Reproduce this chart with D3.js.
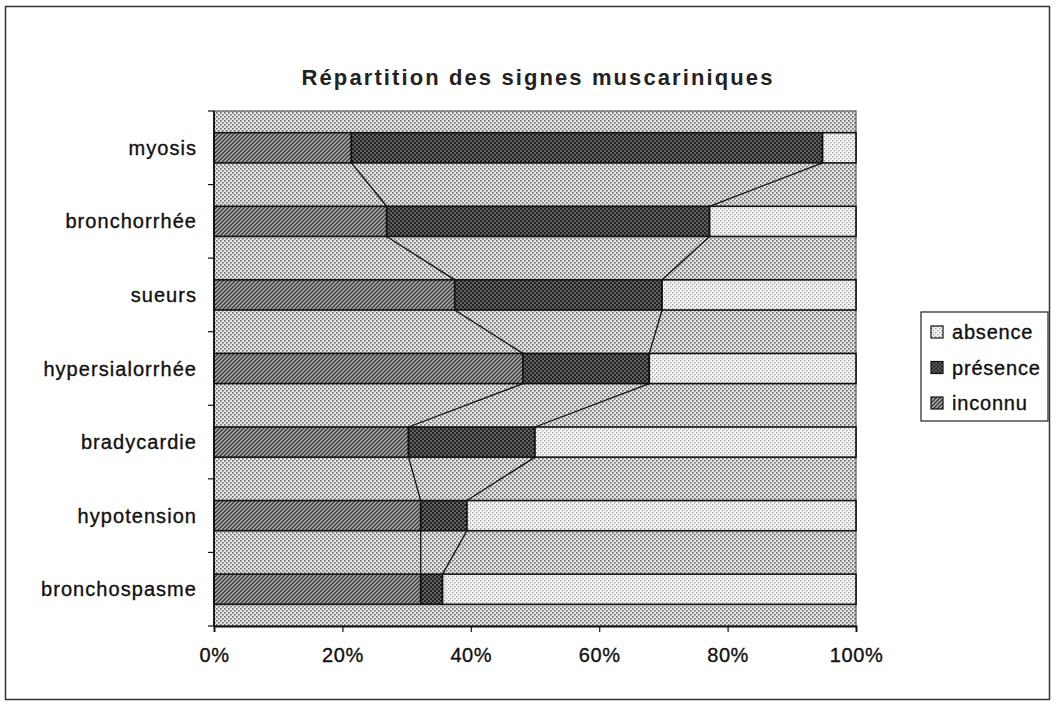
<!DOCTYPE html>
<html>
<head>
<meta charset="utf-8">
<script src="https://cdn.jsdelivr.net/npm/d3@7"></script>
<style>
  html, body { margin: 0; padding: 0; background: #fff; }
  svg { display: block; font-family: "Liberation Sans", Arial, sans-serif; }
</style>
</head>
<body>
<svg id="chart" width="1056" height="704"></svg>
<script>
// Répartition des signes muscariniques (% of patients)
const categories = ["myosis", "bronchorrhée", "sueurs", "hypersialorrhée", "bradycardie", "hypotension", "bronchospasme"];
const seriesNames = ["inconnu", "présence", "absence"];
const inconnu  = [21.4, 26.9, 37.5, 48.1, 30.3, 32.2, 32.2];
const presence = [73.4, 50.3, 32.3, 19.7, 19.7, 7.2, 3.4];
const absence  = [5.2, 22.8, 30.2, 32.2, 50.0, 60.6, 64.4];
const xTicks = [0, 0.2, 0.4, 0.6, 0.8, 1];
const legendOrder = ["absence", "présence", "inconnu"];
const title = "Répartition des signes muscariniques";

const svg = d3.select("#chart");
const defs = svg.append("defs");

// Patterned fills
function dotPattern(id, bg, dot, size, r) {
  const p = defs.append("pattern").attr("id", id).attr("patternUnits", "userSpaceOnUse")
    .attr("width", size).attr("height", size);
  p.append("rect").attr("width", size).attr("height", size).attr("fill", bg);
  p.append("rect").attr("x", 0).attr("y", 0).attr("width", r).attr("height", r).attr("fill", dot);
  p.append("rect").attr("x", size / 2).attr("y", size / 2).attr("width", r).attr("height", r).attr("fill", dot);
}
dotPattern("pat-bg", "#e4e4e4", "#6a6a6a", 4, 1.6);
dotPattern("pat-absence", "#f4f4f4", "#9a9a9a", 4, 1.3);
dotPattern("pat-presence", "#626262", "#222", 4, 2);
(function () {
  const p = defs.append("pattern").attr("id", "pat-inconnu").attr("patternUnits", "userSpaceOnUse")
    .attr("width", 4).attr("height", 4);
  p.append("rect").attr("width", 4).attr("height", 4).attr("fill", "#b0b0b0");
  p.append("path").attr("d", "M-1,1 l2,-2 M0,4 l4,-4 M3,5 l2,-2")
    .attr("stroke", "#383838").attr("stroke-width", 1.4);
})();
const fills = { "inconnu": "url(#pat-inconnu)", "présence": "url(#pat-presence)", "absence": "url(#pat-absence)" };

// Outer frame
svg.append("rect").attr("x", 5.5).attr("y", 6.5).attr("width", 1044).attr("height", 693)
  .attr("fill", "none").attr("stroke", "#333").attr("stroke-width", 1.5);

const margin = { left: 214, right: 856, top: 111, bottom: 626 };

const x = d3.scaleLinear().domain([0, 1]).range([margin.left, margin.right]);
const y = d3.scaleBand().domain(categories).range([margin.top, margin.bottom])
  .paddingInner(0.59).paddingOuter(0.295);

// Plot background
svg.append("rect").attr("x", margin.left).attr("y", margin.top)
  .attr("width", margin.right - margin.left).attr("height", margin.bottom - margin.top)
  .attr("fill", "url(#pat-bg)").attr("stroke", "#555").attr("stroke-width", 1.2);

// Stack the series as shares of 100%
const rows = categories.map((c, i) => {
  const tot = inconnu[i] + presence[i] + absence[i];
  return { cat: c, "inconnu": inconnu[i] / tot, "présence": presence[i] / tot, "absence": absence[i] / tot };
});
const stacked = d3.stack().keys(seriesNames)(rows);

// Series lines linking segment ends of consecutive bars
const lineGroup = svg.append("g");
stacked.slice(0, 2).forEach(layer => {
  for (let i = 0; i < layer.length - 1; i++) {
    lineGroup.append("line")
      .attr("x1", x(layer[i][1])).attr("y1", y(categories[i]) + y.bandwidth())
      .attr("x2", x(layer[i + 1][1])).attr("y2", y(categories[i + 1]))
      .attr("stroke", "#111").attr("stroke-width", 1.3);
  }
});

// Bars
svg.append("g").selectAll("g").data(stacked).join("g")
  .attr("fill", d => fills[d.key])
  .selectAll("rect").data(d => d).join("rect")
  .attr("x", d => x(d[0]))
  .attr("y", d => y(d.data.cat))
  .attr("width", d => x(d[1]) - x(d[0]))
  .attr("height", y.bandwidth())
  .attr("stroke", "#111").attr("stroke-width", 1.6);

// Text styling shared by labels
function labelStyle(sel, size, spacing) {
  sel.attr("font-size", size).attr("fill", "#111").attr("letter-spacing", spacing)
    .attr("stroke", "#111").attr("stroke-width", 0.35)
    .attr("font-family", "'Liberation Sans', Arial, sans-serif");
}

// Axes
const xAxis = d3.axisBottom(x).tickValues(xTicks).tickFormat(d3.format(".0%")).tickSize(6).tickPadding(16);
const gx = svg.append("g").attr("transform", `translate(0,${margin.bottom})`).call(xAxis);
gx.select(".domain").attr("stroke", "#111").attr("stroke-width", 1.8);
gx.selectAll(".tick line").attr("stroke", "#111").attr("stroke-width", 1.2);
gx.selectAll(".tick text").call(labelStyle, 20, 0.6);

const gy = svg.append("g").attr("transform", `translate(${margin.left},0)`);
gy.append("line").attr("x1", 0).attr("x2", 0).attr("y1", margin.top).attr("y2", margin.bottom)
  .attr("stroke", "#111").attr("stroke-width", 1.8);
const step = y.step();
d3.range(categories.length + 1).forEach(k => {
  gy.append("line").attr("x1", -6).attr("x2", 0)
    .attr("y1", margin.top + k * step).attr("y2", margin.top + k * step)
    .attr("stroke", "#111").attr("stroke-width", 1.2);
});
gy.selectAll("text.cat").data(categories).join("text").attr("class", "cat")
  .attr("x", -17).attr("y", d => y(d) + y.bandwidth() / 2)
  .attr("dy", "0.35em").attr("text-anchor", "end")
  .call(labelStyle, 20, 1.05)
  .text(d => d);

// Title
svg.append("text").attr("x", 538).attr("y", 85).attr("text-anchor", "middle")
  .attr("font-size", 22).attr("font-weight", "bold").attr("fill", "#222").attr("letter-spacing", 2.1)
  .text(title);

// Legend
const lg = svg.append("g").attr("transform", "translate(921,312)");
lg.append("rect").attr("width", 127).attr("height", 109).attr("fill", "#fff")
  .attr("stroke", "#333").attr("stroke-width", 1.3);
legendOrder.forEach((k, i) => {
  const row = lg.append("g").attr("transform", `translate(10,${20 + i * 35.5})`);
  row.append("rect").attr("x", 0).attr("y", -6).attr("width", 12).attr("height", 12)
    .attr("fill", fills[k]).attr("stroke", "#111").attr("stroke-width", 1.2);
  row.append("text").attr("x", 21).attr("y", 0).attr("dy", "0.35em")
    .call(labelStyle, 20, 0.8).text(k);
});
</script>
</body>
</html>
